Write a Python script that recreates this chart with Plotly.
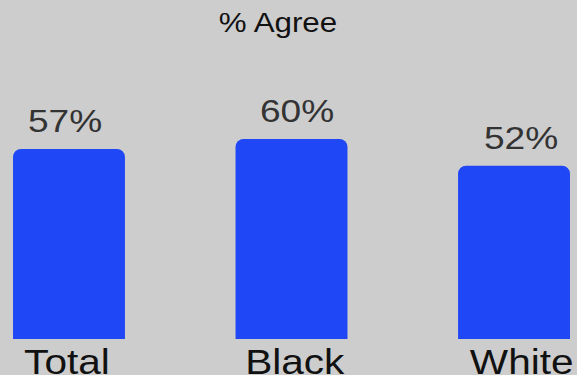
import plotly.graph_objects as go

categories = ["Total", "Black", "White"]
values = [57, 60, 52]
value_labels = ["57%", "60%", "52%"]
title_text = "% Agree"

W, H = 577, 375
BG = "#cdcdcd"
BAR = "#1f47f5"
FONT = "Liberation Sans, Arial, sans-serif"

fig = go.Figure()
fig.add_trace(go.Bar(
    x=categories, y=values,
    marker=dict(color=BAR, cornerradius=8, line=dict(width=0)),
    hoverinfo="skip",
))

label_dx = [-4, 5, 7]
cat_dx = [-2, 3, 7]
annotations = []
for i, (c, v, t) in enumerate(zip(categories, values, value_labels)):
    annotations.append(dict(
        x=c, y=v, xref="x", yref="y", text=t, showarrow=False,
        xanchor="center", yanchor="bottom", yshift=8, xshift=label_dx[i],
        font=dict(family=FONT, size=32, color="#333333"),
    ))
    annotations.append(dict(
        x=c, y=0, xref="x", yref="y", text=c, showarrow=False,
        xanchor="center", yanchor="top", yshift=-1, xshift=cat_dx[i],
        font=dict(family=FONT, size=35, color="#111111"),
    ))
annotations.append(dict(
    x=277.5 / W, y=1 - 23 / H, xref="paper", yref="paper", text=title_text,
    showarrow=False, xanchor="center", yanchor="middle",
    font=dict(family=FONT, size=27, color="#111111"),
))

fig.update_layout(
    width=W, height=H,
    margin=dict(l=0, r=0, t=0, b=0),
    paper_bgcolor=BG, plot_bgcolor=BG,
    bargap=0.497,
    showlegend=False,
    annotations=annotations,
    xaxis=dict(type="category", range=[-0.31, 2.283], showticklabels=False,
               showgrid=False, zeroline=False, showline=False, fixedrange=True),
    yaxis=dict(range=[-10.8, 101.7], showticklabels=False, showgrid=False,
               zeroline=False, showline=False, fixedrange=True),
)

# The reference text is slightly horizontally stretched; widen glyphs a bit.
post = """
var s = document.createElement('style');
s.textContent = '.annotation-text{transform-box:fill-box;transform-origin:center;transform:scaleX(1.16);}';
document.head.appendChild(s);
"""

fig.write_html("out.html", config=dict(displayModeBar=False), post_script=post)
